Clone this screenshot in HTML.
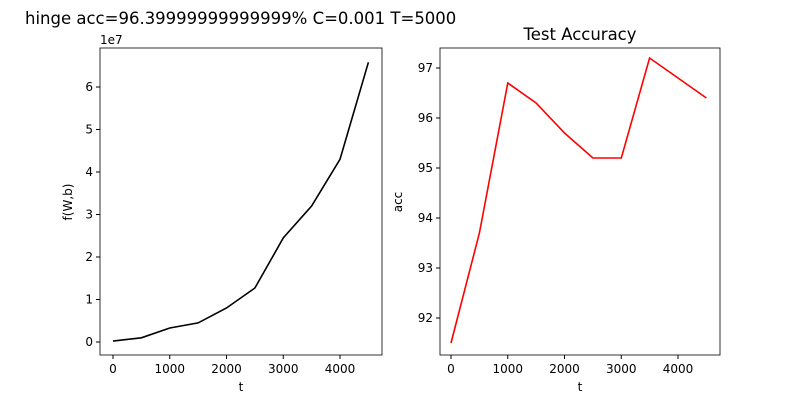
<!DOCTYPE html>
<html><head><meta charset="utf-8"><style>
body{margin:0;background:#fff}
svg{font-family:"DejaVu Sans","Liberation Sans",sans-serif;font-size:12px}
</style></head><body>
<svg id="c" width="800" height="400" xmlns="http://www.w3.org/2000/svg">
<rect width="800" height="400" fill="#fff"/>
<text x="25" y="24" font-size="16.5">hinge acc=96.39999999999999% C=0.001 T=5000</text>
<text x="580" y="40" font-size="16.5" text-anchor="middle">Test Accuracy</text>
</svg>
<script>
const tVals=[0,500,1000,1500,2000,2500,3000,3500,4000,4500];
const lossVals=[0.02,0.1,0.33,0.45,0.8,1.27,2.45,3.2,4.3,6.58];
const accVals=[91.5,93.7,96.7,96.3,95.7,95.2,95.2,97.2,96.8,96.4];
const xTicks=[0,1000,2000,3000,4000];
const lossTicks=[0,1,2,3,4,5,6];
const accTicks=[92,93,94,95,96,97];
const svg=document.getElementById('c');
const NS='http://www.w3.org/2000/svg';
function mk(tag,attrs,name){const e=document.createElementNS(NS,tag);for(const k in attrs)e.setAttribute(k,attrs[k]);


svg.appendChild(e);return e;}
function txt(x,y,s,anchor,name,extra){const e=mk('text',Object.assign({x:x,y:y,'text-anchor':anchor},extra||{}),name);e.textContent=s;return e;}
function panel(L,R,T,B,x0,x1px,y0v,y0px,y1v,y1px,yTicks,vals,color,ylab,prefix){
  const sx=v=>x0+(v/1000)*x1px;
  const sy=v=>y0px+(v-y0v)*(y1px-y0px)/(y1v-y0v);
  mk('rect',{x:L,y:T,width:R-L,height:B-T,fill:'none',stroke:'#000','stroke-width':0.8},prefix+'-frame');
  xTicks.forEach(t=>{const x=sx(t);mk('line',{x1:x,x2:x,y1:B,y2:B+4,stroke:'#000'},prefix+'-x-tick');txt(x,B+18,String(t),'middle',prefix+'-x-tick-label');});
  yTicks.forEach(t=>{const y=sy(t);mk('line',{x1:L-4,x2:L,y1:y,y2:y,stroke:'#000'},prefix+'-y-tick');txt(L-7,y+4,String(t),'end',prefix+'-y-tick-label');});
  txt((L+R)/2,B+36,'t','middle',prefix+'-x-axis-title');
  const p=vals.map((v,i)=>sx(tVals[i]).toFixed(1)+','+sy(v).toFixed(1)).join(' ');
  mk('polyline',{points:p,fill:'none',stroke:color,'stroke-width':1.6},prefix+'-line');
  return {sy};
}
panel(100,382,48,355,113,56.75,0,342,6,87,lossTicks,lossVals,'#000','f(W,b)','left');
panel(440,720,48,355,451,56.75,92,318,97,68,accTicks,accVals,'red','acc','right');
txt(0,0,'f(W,b)','middle','left-y-axis-title',{transform:'translate(72,202) rotate(-90)'});
txt(0,0,'acc','middle','right-y-axis-title',{transform:'translate(402,202) rotate(-90)'});
txt(100,44,'1e7','start','left-y-offset-label');
</script>
</body></html>
